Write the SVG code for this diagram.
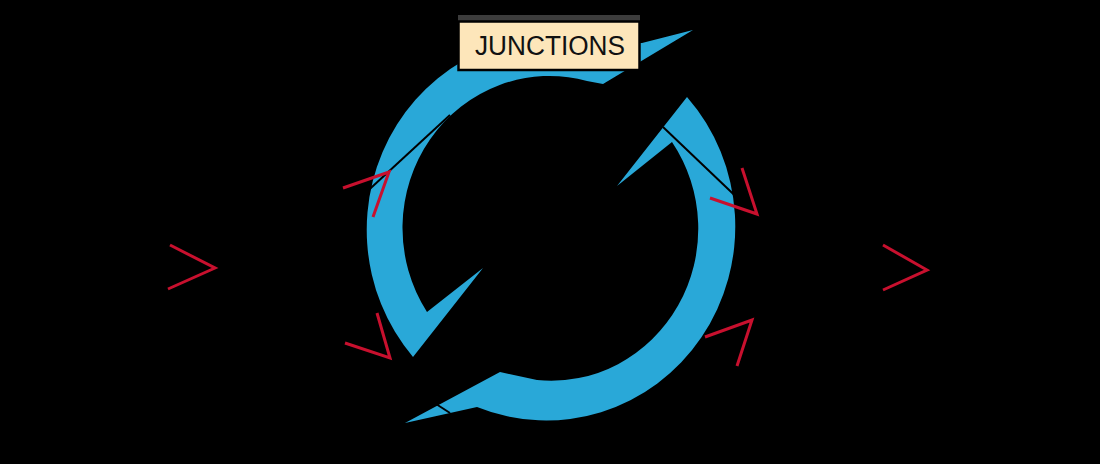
<svg xmlns="http://www.w3.org/2000/svg" width="1100" height="464" viewBox="0 0 1100 464">
<style>
.band{fill:#29A8D8;}
.red{fill:none;stroke:#C8102E;stroke-width:3;stroke-linejoin:miter;stroke-linecap:butt;}
.blk{fill:none;stroke:#000;stroke-width:2;}
.lbl{font-family:"Liberation Sans",Arial,sans-serif;font-size:27px;fill:#111;}
</style>
<rect x="0" y="0" width="1100" height="464" fill="#000"/>
<g id="arrow-top-left">
<path class="band" d="M693,30 L642,43 L610,44 A189 194 0 0 0 413,357 L483,268 L427,312 A147 152 0 0 1 587,81 L603,84 Z"/>
</g>
<g id="arrow-right">
<path class="band" d="M687,97 A189 194 0 0 1 477,407 L405,423 L500,372 L537,380 A147 152 0 0 0 672,142 L617,186 Z"/>
</g>
<g id="label-junctions">
<rect x="458" y="15" width="182" height="6" fill="#3c3c3c"/>
<rect x="458.5" y="21.5" width="181" height="48.5" fill="#FDE6BA" stroke="#000" stroke-width="2.5"/>
<text class="lbl" x="550" y="55" text-anchor="middle" textLength="150" lengthAdjust="spacingAndGlyphs">JUNCTIONS</text>
</g>
<g id="connectors">
<line class="blk" x1="450" y1="115" x2="360" y2="198"/>
<line class="blk" x1="663" y1="127" x2="748" y2="208"/>
<line class="blk" x1="433" y1="402" x2="450" y2="413"/>
<polyline class="red" points="170,245 215,268 168,289"/>
<polyline class="red" points="883,245 927,270 883,290"/>
<polyline class="red" points="343,188 389,172 373,217"/>
<polyline class="red" points="710,198 757,214 742,168"/>
<polyline class="red" points="345,343 390,358 377,313"/>
<polyline class="red" points="705,337 752,320 737,366"/>
</g>
</svg>
